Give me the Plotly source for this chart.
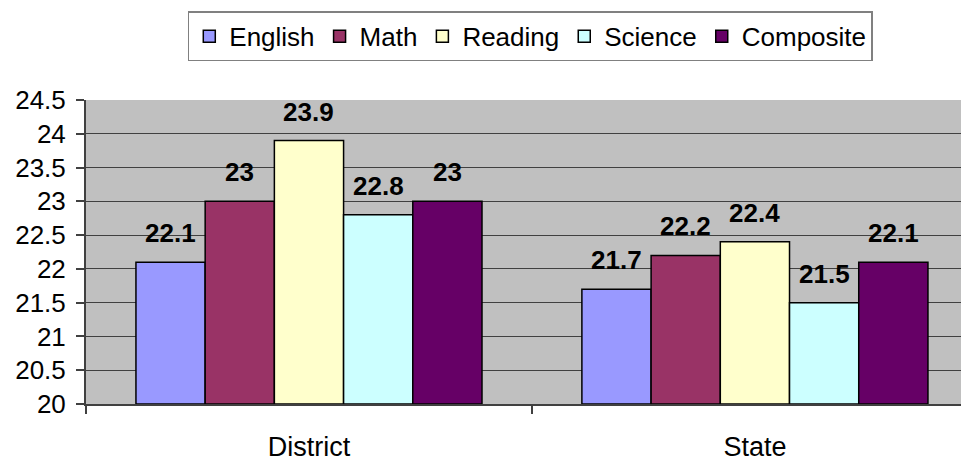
import plotly.graph_objects as go

categories = ["District", "State"]
series_names = ["English", "Math", "Reading", "Science", "Composite"]
english = [22.1, 21.7]
math = [23.0, 22.2]
reading = [23.9, 22.4]
science = [22.8, 21.5]
composite = [23.0, 22.1]
colors = ["#9999FF", "#993366", "#FFFFCC", "#CCFFFF", "#660066"]
y_ticks = [20, 20.5, 21, 21.5, 22, 22.5, 23, 23.5, 24, 24.5]

all_series = [english, math, reading, science, composite]
FONT = "Liberation Sans, Arial, sans-serif"
bargap = 0.224
n = len(all_series)
bw = (1 - bargap) / n
xs = list(range(len(categories)))

fig = go.Figure()
for j, (name, vals, col) in enumerate(zip(series_names, all_series, colors)):
    fig.add_trace(go.Bar(
        x=xs, y=[v - 20 for v in vals], base=20, name=name,
        marker=dict(color=col, line=dict(color="#000000", width=1.5)),
    ))
    for i, v in enumerate(vals):
        fig.add_annotation(
            x=i + (j - (n - 1) / 2) * bw, y=v, text=f"<b>{v:g}</b>",
            showarrow=False, yanchor="bottom", yshift=12,
            font=dict(family=FONT, size=26, color="#000000"),
        )

fig.update_layout(
    width=969, height=462,
    margin=dict(l=78, r=0, t=92, b=66, autoexpand=False),
    paper_bgcolor="#FFFFFF", plot_bgcolor="#C0C0C0",
    barmode="group", bargap=bargap, bargroupgap=0,
    font=dict(family=FONT, size=26, color="#000000"),
    showlegend=True,
    legend=dict(
        orientation="h", xref="container", yref="container",
        x=0.539, xanchor="center", y=0.993, yanchor="top",
        bordercolor="#808080", borderwidth=1.5, bgcolor="#FFFFFF",
        font=dict(family=FONT, size=26), itemwidth=30, tracegroupgap=0,
    ),
)
fig.update_xaxes(
    tickmode="array", tickvals=xs, ticktext=categories,
    range=[-0.5, 1.498], showgrid=False, zeroline=False,
    showline=True, linecolor="#404040", linewidth=2,
    ticks="", ticklabelstandoff=18, tickfont=dict(size=27),
)
fig.update_xaxes(minor=dict(tickmode="array", tickvals=[-0.5, 0.5, 1.5], ticks="outside",
                            ticklen=8, tickcolor="#404040", tickwidth=1.5, showgrid=False))
fig.update_yaxes(
    range=[20, 24.5], tickmode="array", tickvals=y_ticks,
    ticktext=[f"{t:g}" for t in y_ticks],
    showgrid=True, gridcolor="#404040", gridwidth=1,
    showline=True, linecolor="#404040", linewidth=2,
    ticks="outside", ticklen=8, tickcolor="#404040", tickwidth=1.5,
    zeroline=False, ticklabelstandoff=5, tickfont=dict(size=26),
)

fig.write_html("out.html")
